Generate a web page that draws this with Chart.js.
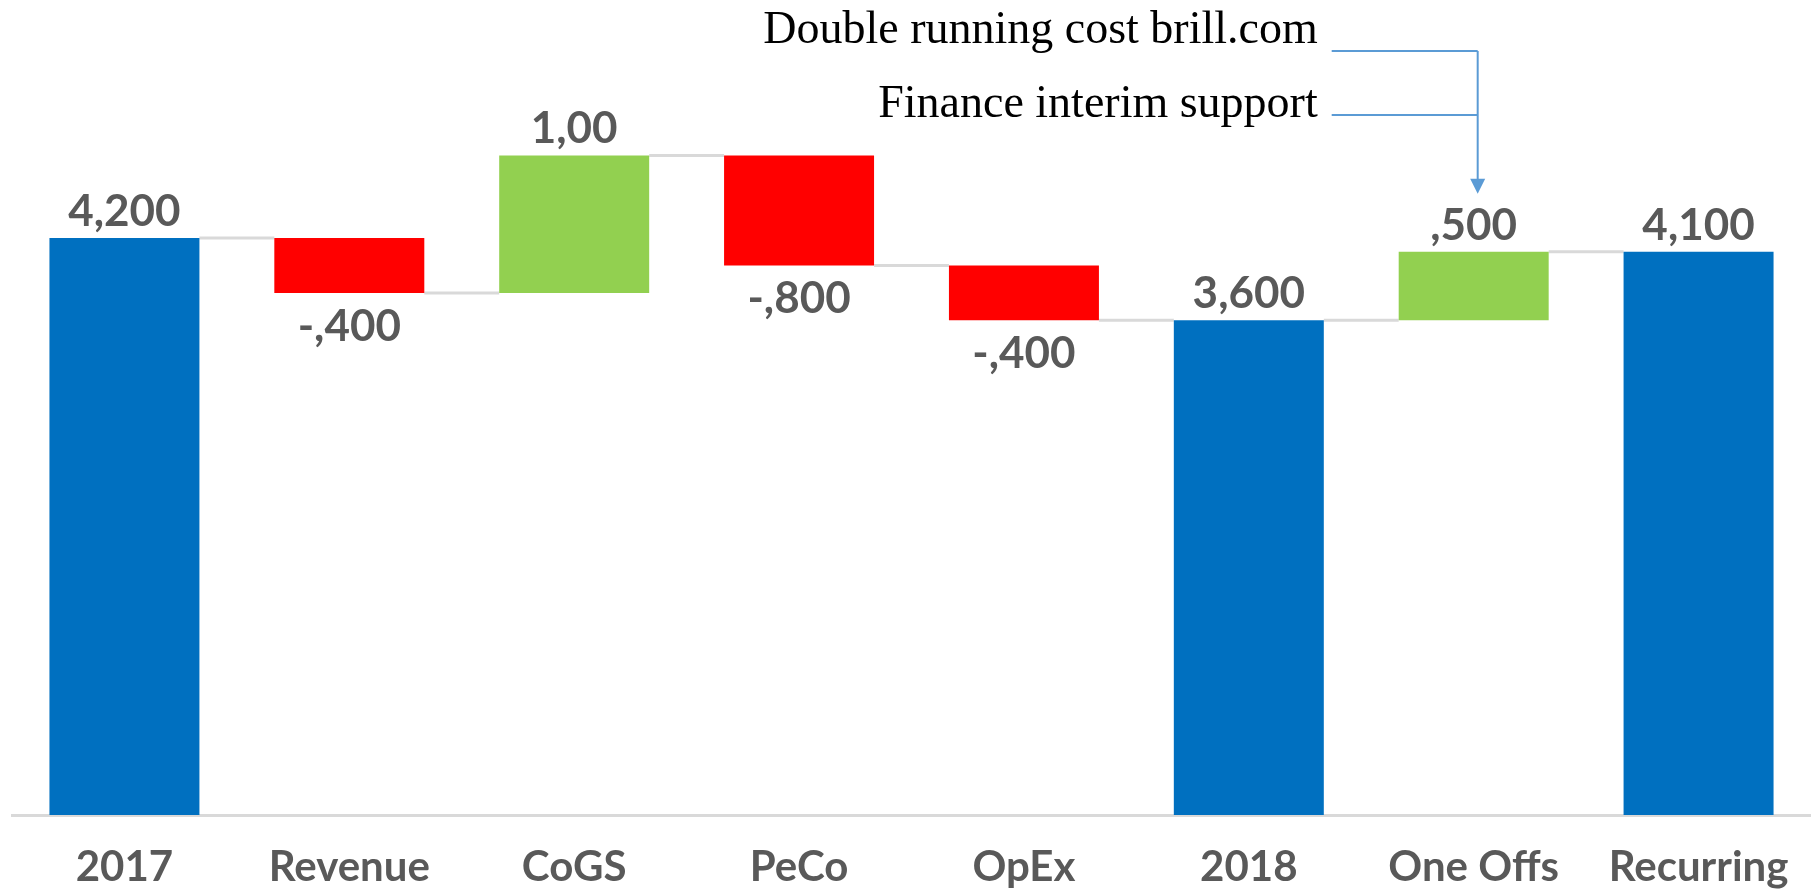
<!DOCTYPE html>
<html>
<head>
<meta charset="utf-8">
<script src="https://cdn.jsdelivr.net/npm/chart.js@4.4.1/dist/chart.umd.min.js"></script>
<style>
    html, body { margin: 0; padding: 0; background: #fff; }
    #wrap { width: 1811px; height: 890px; position: relative; }
</style>
</head>
<body>
<div id="wrap"><canvas id="waterfall"></canvas></div>
<script>
const categories = ['2017', 'Revenue', 'CoGS', 'PeCo', 'OpEx', '2018', 'One Offs', 'Recurring'];
const changes = [4200, -400, 1000, -800, -400, 3600, 500, 4100];
const isTotal = [true, false, false, false, false, true, false, true];
const valueLabels = ['4,200', '-,400', '1,00', '-,800', '-,400', '3,600', ',500', '4,100'];
const notes = ['Double running cost brill.com', 'Finance interim support'];
const noteTarget = 6; // One Offs

const BLUE = '#0070c0';
const RED = '#ff0000';
const GREEN = '#92d050';
const LABEL = '#595959';
const CONNECTOR = '#d9d9d9';
const NOTE_LINE = '#5b9bd5';

// floating bars [start, end]
let running = 0;
const ranges = [];
const colors = [];
changes.forEach((v, i) => {
    if (isTotal[i]) {
        ranges.push([0, v]);
        running = v;
        colors.push(BLUE);
    } else {
        ranges.push([running, running + v]);
        running += v;
        colors.push(v < 0 ? RED : GREEN);
    }
});

const connectorPlugin = {
    id: 'connectors',
    beforeDatasetsDraw(chart) {
        const { ctx } = chart;
        const meta = chart.getDatasetMeta(0);
        const y = chart.scales.y;
        ctx.save();
        ctx.strokeStyle = CONNECTOR;
        ctx.lineWidth = 3;
        for (let i = 0; i < ranges.length - 1; i++) {
            const bar = meta.data[i];
            const next = meta.data[i + 1];
            const level = y.getPixelForValue(ranges[i][1]);
            ctx.beginPath();
            ctx.moveTo(bar.x + bar.width / 2, level);
            ctx.lineTo(next.x - next.width / 2, level);
            ctx.stroke();
        }
        ctx.restore();
    }
};

const labelPlugin = {
    id: 'valueLabels',
    afterDatasetsDraw(chart) {
        const { ctx } = chart;
        const meta = chart.getDatasetMeta(0);
        const y = chart.scales.y;
        ctx.save();
        ctx.font = 'bold 44px Lato';
        ctx.fillStyle = LABEL;
        ctx.textAlign = 'center';
        ctx.textBaseline = 'alphabetic';
        meta.data.forEach((bar, i) => {
            const top = y.getPixelForValue(Math.max(...ranges[i]));
            const bottom = y.getPixelForValue(Math.min(...ranges[i]));
            if (changes[i] < 0) {
                ctx.fillText(valueLabels[i], bar.x, bottom + 48);
            } else {
                ctx.fillText(valueLabels[i], bar.x, top - 12);
            }
        });
        ctx.restore();
    }
};

const notesPlugin = {
    id: 'notes',
    afterDraw(chart) {
        const { ctx } = chart;
        const bar = chart.getDatasetMeta(0).data[noteTarget];
        const ax = bar.x + 4;
        const lineY = [51, 115];
        const textY = [43, 117];
        ctx.save();
        ctx.font = '46px "Liberation Serif"';
        ctx.fillStyle = '#000';
        ctx.textAlign = 'right';
        ctx.textBaseline = 'alphabetic';
        notes.forEach((t, i) => ctx.fillText(t, ax - 160, textY[i]));

        ctx.strokeStyle = NOTE_LINE;
        ctx.lineWidth = 2;
        lineY.forEach(ly => {
            ctx.beginPath();
            ctx.moveTo(ax - 146, ly);
            ctx.lineTo(ax, ly);
            ctx.stroke();
        });
        const tip = chart.scales.y.getPixelForValue(ranges[noteTarget][1]) - 58;
        ctx.beginPath();
        ctx.moveTo(ax, lineY[0]);
        ctx.lineTo(ax, tip - 12);
        ctx.stroke();
        ctx.fillStyle = NOTE_LINE;
        ctx.beginPath();
        ctx.moveTo(ax - 7.5, tip - 15);
        ctx.lineTo(ax + 7.5, tip - 15);
        ctx.lineTo(ax, tip);
        ctx.closePath();
        ctx.fill();
        ctx.restore();
    }
};

new Chart(document.getElementById('waterfall'), {
    type: 'bar',
    data: {
        labels: categories,
        datasets: [{
            data: ranges,
            backgroundColor: colors,
            borderWidth: 0,
            barPercentage: 0.667,
            categoryPercentage: 1
        }]
    },
    options: {
        responsive: true,
        maintainAspectRatio: false,
        animation: false,
        layout: { padding: { top: 128, left: 12, right: -1, bottom: 0 } },
        plugins: {
            legend: { display: false },
            tooltip: { enabled: false }
        },
        scales: {
            x: {
                grid: { display: false, drawTicks: false },
                border: { display: true, color: CONNECTOR, width: 3 },
                ticks: {
                    color: LABEL,
                    font: { family: 'Lato', weight: 'bold', size: 42 },
                    padding: 27,
                    maxRotation: 0,
                    autoSkip: false
                },
                afterFit(scale) {
                    scale.height = 75;
                    scale.paddingLeft = 0;
                    scale.paddingRight = 0;
                }
            },
            y: {
                display: false,
                min: 0,
                max: 5000
            }
        }
    },
    plugins: [connectorPlugin, labelPlugin, notesPlugin]
});
</script>
</body>
</html>
